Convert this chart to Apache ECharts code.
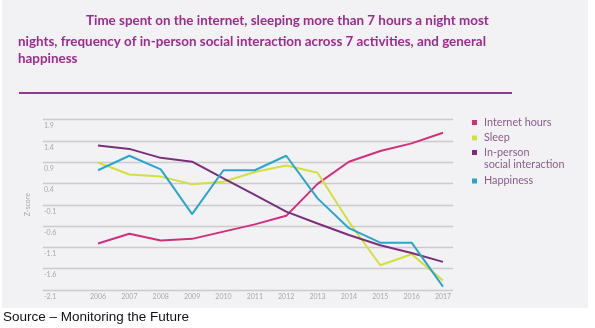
<!DOCTYPE html>
<html>
<head>
<meta charset="utf-8">
<script src="https://cdn.jsdelivr.net/npm/echarts@6/dist/echarts.min.js"></script>
<style>
html,body{margin:0;padding:0;background:#ffffff;}
#chart{width:595px;height:328px;}
</style>
</head>
<body>
<div id="chart"></div>
<script>
// ---- data ----
const years = [2006, 2007, 2008, 2009, 2010, 2011, 2012, 2013, 2014, 2015, 2016, 2017];
const internetHours = [-1.01, -0.78, -0.94, -0.90, -0.73, -0.56, -0.36, 0.39, 0.91, 1.16, 1.34, 1.59];
const sleep = [0.89, 0.61, 0.56, 0.38, 0.44, 0.67, 0.82, 0.65, -0.50, -1.52, -1.26, -1.88];
const inPerson = [1.29, 1.21, 1.00, 0.91, 0.52, 0.13, -0.26, -0.54, -0.81, -1.05, -1.23, -1.44];
const happiness = [0.71, 1.05, 0.73, -0.32, 0.71, 0.71, 1.05, 0.05, -0.65, -0.99, -0.99, -2.02];
const yTickMin = -2.1, yTickMax = 1.9, yTickStep = 0.5;
const seriesNames = ['Internet hours', 'Sleep', 'In-person social interaction', 'Happiness'];
const legendLabels = ['Internet hours', 'Sleep', 'In-person', 'Happiness'];
const legendSecondLine = 'social interaction';
const titleLines = [
  'Time spent on the internet, sleeping more than 7 hours a night most',
  'nights, frequency of in-person social interaction across 7 activities, and general',
  'happiness'
];
const sourceText = 'Source \u2013 Monitoring the Future';
const axisName = 'Z-score';

const colors = ['#cf2f7c', '#d3df3c', '#7b2f7b', '#2aa5cc'];
const allValues = [internetHours, sleep, inPerson, happiness];

const chart = echarts.init(document.getElementById('chart'), null, {renderer: 'canvas'});

const legendTops = [116, 131.5, 146, 174.5];
const legendFont = {fontFamily: 'Lato', fontSize: 10.8, color: '#8a5a8a', lineHeight: 13, padding: [0, 0, 0, 2]};
const legends = seriesNames.map((n, i) => ({
  data: [n],
  left: 472,
  top: legendTops[i],
  orient: 'vertical',
  padding: 0,
  itemWidth: 5,
  itemHeight: 5,
  icon: 'rect',
  selectedMode: false,
  formatter: () => legendLabels[i],
  textStyle: legendFont
}));

const titleFont = 'bold 13.4px Lato';
const option = {
  backgroundColor: '#ffffff',
  animation: false,
  graphic: [
    {type: 'rect', left: 2, top: 0, shape: {width: 586, height: 308}, style: {fill: '#f2f2f4'}, z: -10, silent: true},
    {type: 'text', left: 86, top: 14.5, style: {text: titleLines[0], font: titleFont, fill: '#9b2c8d'}},
    {type: 'text', left: 18, top: 35, style: {text: titleLines[1], font: titleFont, fill: '#9b2c8d'}},
    {type: 'text', left: 18, top: 52.5, style: {text: titleLines[2], font: titleFont, fill: '#9b2c8d'}},
    {type: 'rect', left: 19, top: 92, shape: {width: 493, height: 2}, style: {fill: '#8f3a8f'}},
    {type: 'text', left: 484, top: 159.2, style: {text: legendSecondLine, font: '10.8px Lato', fill: '#8a5a8a'}},
    {type: 'text', left: 3, top: 310, style: {text: sourceText, font: '13.5px "Liberation Sans", Arial, sans-serif', fill: '#111111'}}
  ],
  legend: legends,
  grid: {left: 43, right: 142, top: 119.5, height: 170.5, containLabel: false},
  xAxis: {
    type: 'value',
    min: 2004.246,
    max: 2017.319,
    axisLine: {show: false},
    axisTick: {show: false},
    splitLine: {show: false},
    axisLabel: {
      customValues: years,
      formatter: v => String(Math.round(v)),
      fontFamily: 'Lato',
      fontSize: 7,
      color: '#a9a9a9',
      margin: 3
    }
  },
  yAxis: {
    type: 'value',
    min: yTickMin,
    max: yTickMax,
    interval: yTickStep,
    name: axisName,
    nameLocation: 'middle',
    nameRotate: 90,
    nameGap: 12,
    nameTextStyle: {fontFamily: 'Lato', fontSize: 7, color: '#a9a9a9'},
    axisLine: {show: false},
    axisTick: {show: false},
    splitLine: {lineStyle: {color: '#cbcbcb', width: 1.3}},
    axisLabel: {
      inside: true,
      margin: 1,
      verticalAlign: 'top',
      align: 'left',
      padding: [3, 0, 0, 0],
      fontFamily: 'Lato',
      fontSize: 7,
      color: '#a9a9a9',
      formatter: v => (Math.round(v * 10) / 10).toFixed(1)
    }
  },
  series: seriesNames.map((n, i) => ({
    name: n,
    type: 'line',
    data: years.map((y, k) => [y, allValues[i][k]]),
    showSymbol: false,
    symbol: 'none',
    itemStyle: {color: colors[i]},
    lineStyle: {color: colors[i], width: 2},
    z: 3
  }))
};
chart.setOption(option);
</script>
</body>
</html>
